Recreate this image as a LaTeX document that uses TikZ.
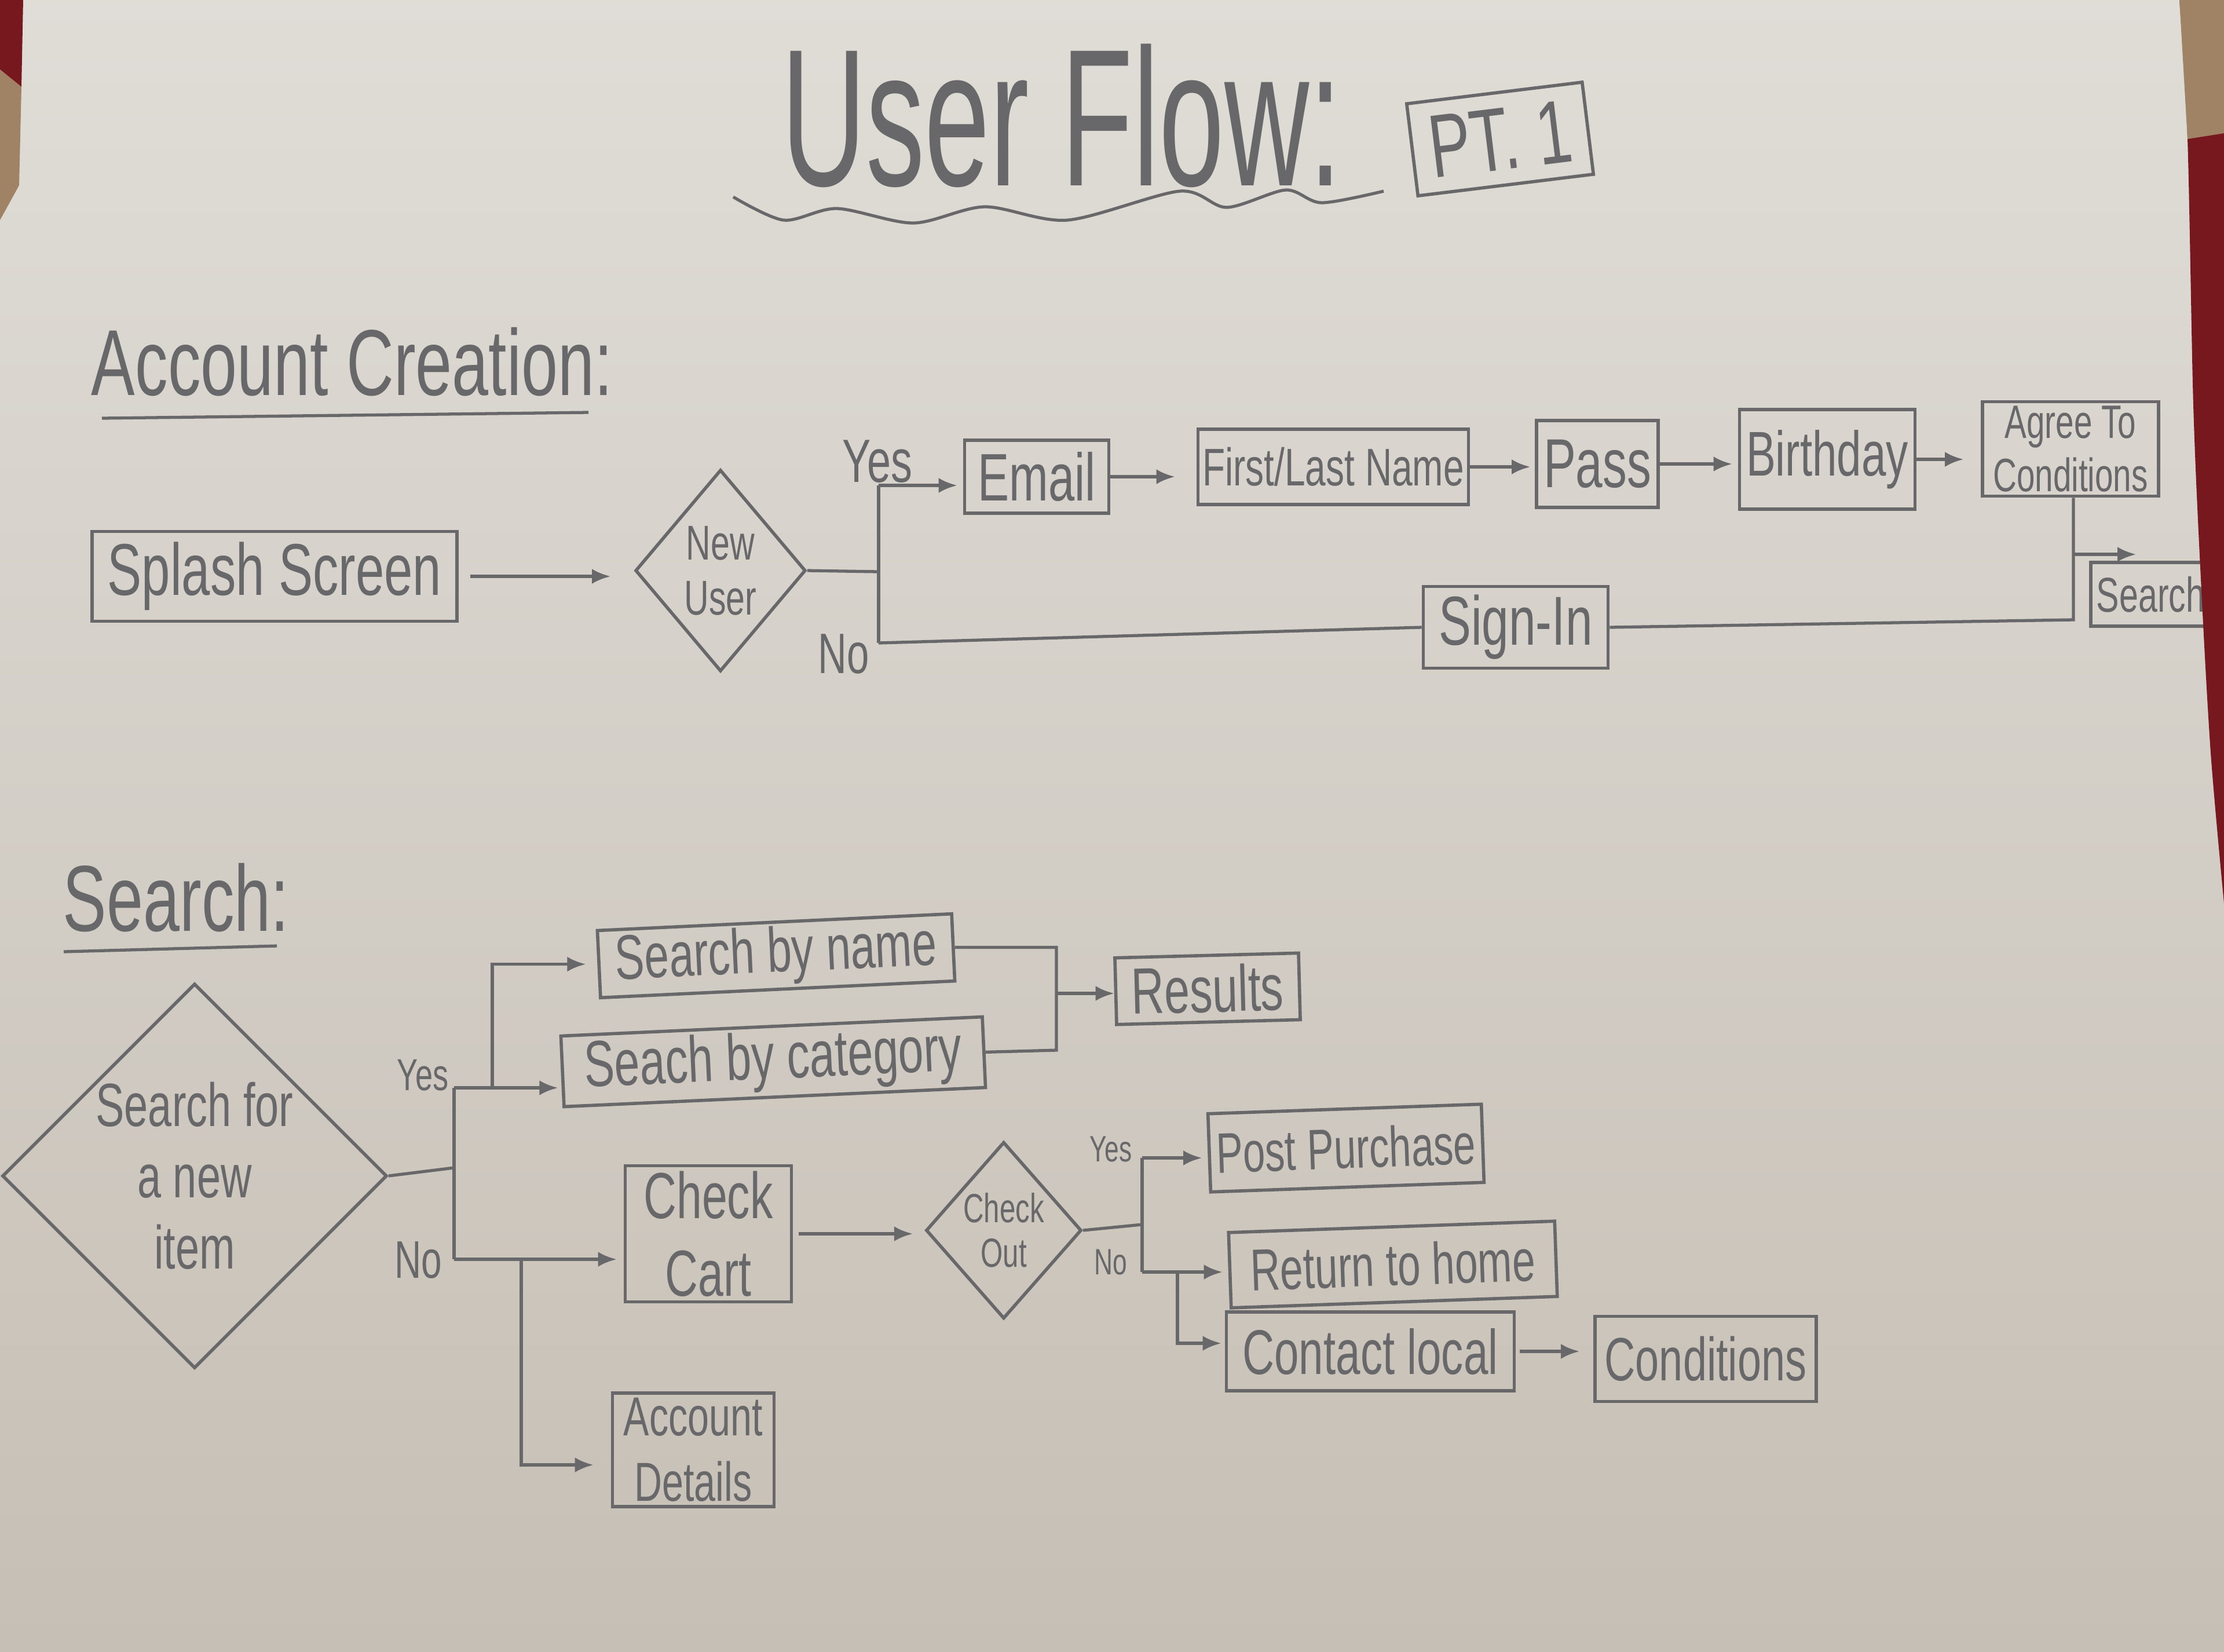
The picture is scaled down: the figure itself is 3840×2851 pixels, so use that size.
\documentclass[tikz,border=0pt]{standalone}
\usepackage{fontspec}
\setmainfont[FakeStretch=0.7]{Liberation Sans}
\newfontfamily\titlefont{Liberation Sans}
\usetikzlibrary{arrows.meta, calc, shapes.geometric}
\definecolor{paper}{RGB}{216,212,205}
\definecolor{paperdark}{RGB}{198,191,181}
\definecolor{pencil}{RGB}{104,104,107}
\definecolor{rug}{RGB}{118,24,30}
\definecolor{rugtan}{RGB}{160,130,100}
\newcommand{\fs}[2]{\fontsize{#1}{#2}\selectfont}
\tikzset{
  box/.style={draw=pencil, line width=1.6pt, text=pencil, inner sep=0pt, align=center},
  decision/.style={diamond, draw=pencil, line width=1.6pt, text=pencil, inner sep=0pt, align=center},
  wire/.style={draw=pencil, line width=1.5pt},
  flow/.style={wire, -{Latex[length=0.32cm, width=0.26cm]}},
  lbl/.style={text=pencil, inner sep=0pt},
}

\begin{document}
\begin{tikzpicture}[x=0.01cm, y=-0.01cm]
  \useasboundingbox (0,0) rectangle (3840,2851);
  \shade[top color=paper!80!white, bottom color=paperdark] (0,0) rectangle (3840,2851);

  % title
  \node[lbl] (title) at (1833,200) {\scalebox{0.6}[1]{\titlefont\fs{96}{106}User Flow:}};
  \node[box, rotate=7, minimum width=3.05cm, minimum height=1.6cm, font=\fs{44}{48}] (part) at (2590,240) {PT. 1};
  \draw[wire] plot[smooth] coordinates {(1266,340) (1353,380) (1445,360) (1577,385) (1700,357) (1843,380) (2037,330) (2118,358) (2220,328) (2282,350) (2389,330)};

  % account creation
  \node[lbl, font=\fs{46}{50}] (acct) at (608,625) {Account Creation:};
  \draw[wire] (176,722) -- (1016,712);

  \node[box, minimum width=6.3cm, minimum height=1.55cm, font=\fs{36}{40}] (splash) at (474,995) {Splash Screen};
  \node[decision, minimum width=2.94cm, minimum height=3.48cm, font=\fs{24}{27}] (newuser) at (1244,985) {New\\User};
  \node[box, minimum width=2.49cm, minimum height=1.26cm, font=\fs{33}{36}] (email) at (1790,823) {Email};
  \node[box, minimum width=4.67cm, minimum height=1.3cm, font=\fs{26}{30}] (name) at (2302,806) {First/Last Name};
  \node[box, minimum width=2.1cm, minimum height=1.5cm, font=\fs{34}{38}] (pass) at (2758,801) {Pass};
  \node[box, minimum width=3.03cm, minimum height=1.72cm, font=\fs{31}{34}] (bday) at (3155,793) {Birthday};
  \node[box, minimum width=3.04cm, minimum height=1.63cm, font=\fs{23}{26}] (agree) at (3575,775) {Agree To\\Conditions};
  \node[box, minimum height=1.1cm, text width=2.6cm, inner xsep=0.1cm, align=left, font=\fs{24}{27}] (search) at (3750,1026) {Search};
  \node[box, minimum width=3.19cm, minimum height=1.41cm, font=\fs{34}{38}] (signin) at (2617,1083) {Sign-In};

  \node[lbl, font=\fs{30}{32}] (yes1) at (1515,797) {Yes};
  \node[lbl, font=\fs{28}{30}] (no1) at (1457,1129) {No};

  \coordinate (ua) at (1517,987);
  \coordinate (uyes) at (1517,838);
  \coordinate (uno) at (1517,1110);
  \coordinate (ub) at (3580,1070);
  \coordinate (uc) at (3580,957);
  \coordinate (ucend) at (3688,957);

  \draw[flow, shorten <=0.2cm, shorten >=0.4cm] (splash.east) -- (splash.east -| newuser.west);
  \draw[wire] (newuser.east) -- (ua);
  \draw[wire] (uyes) -- (uno);
  \draw[flow, shorten >=0.1cm] (uyes) -- (uyes -| email.west);
  \draw[flow, shorten >=0.37cm] (email.east) -- (email.east -| name.west);
  \draw[flow, shorten >=0.08cm] (name.east) -- (name.east -| pass.west);
  \draw[flow, shorten >=0.1cm] (pass.east) -- (pass.east -| bday.west);
  \draw[flow, shorten >=0.3cm] (bday.east) -- (bday.east -| agree.west);
  \draw[wire] (uno) -- (signin.west);
  \draw[wire] (signin.east) -- (ub) -- (ub |- agree.south);
  \draw[flow] (uc) -- (ucend);

  % search
  \node[lbl, font=\fs{46}{50}] (srch) at (304,1550) {Search:};
  \draw[wire] (110,1643) -- (478,1633);

  \node[decision, minimum width=6.22cm, minimum height=6.17cm, font=\fs{30}{35}] (newitem) at (336,2030) {Search for\\a new\\item};
  \node[box, rotate=2.7, minimum width=6.12cm, minimum height=1.16cm, font=\fs{31}{36}] (byname) at (1340,1650) {Search by name};
  \node[box, rotate=2.6, minimum width=7.28cm, minimum height=1.22cm, font=\fs{32}{36}] (bycat) at (1335,1833) {Seach by category};
  \node[box, rotate=1.5, minimum width=3.17cm, minimum height=1.15cm, font=\fs{32}{36}] (results) at (2085,1707) {Results};
  \node[box, minimum width=2.87cm, minimum height=2.35cm, font=\fs{32}{38}] (cart) at (1223,2130) {Check\\Cart};
  \node[box, minimum width=2.79cm, minimum height=1.96cm, font=\fs{27}{32}] (account) at (1197,2503) {Account\\Details};
  \node[decision, minimum width=2.6cm, minimum height=3.05cm, font=\fs{20}{22}] (checkout) at (1733,2124) {Check\\Out};
  \node[box, rotate=2, minimum width=4.72cm, minimum height=1.35cm, font=\fs{28}{32}] (post) at (2324,1982) {Post Purchase};
  \node[box, rotate=2, minimum width=5.63cm, minimum height=1.3cm, font=\fs{29}{32}] (home) at (2405,2183) {Return to home};
  \node[box, minimum width=4.97cm, minimum height=1.36cm, font=\fs{31}{34}] (contact) at (2366,2333) {Contact local};
  \node[box, minimum width=3.82cm, minimum height=1.47cm, font=\fs{30}{34}] (cond) at (2945,2346) {Conditions};

  \node[lbl, font=\fs{22}{24}] (yes2) at (730,1856) {Yes};
  \node[lbl, font=\fs{26}{28}] (no2) at (722,2175) {No};
  \node[lbl, font=\fs{18}{20}] (yes3) at (1918,1984) {Yes};
  \node[lbl, font=\fs{18}{20}] (no3) at (1918,2179) {No};

  \coordinate (sa) at (784,2016);
  \coordinate (syes) at (784,1878);
  \coordinate (sno) at (784,2174);
  \coordinate (syup) at (850,1878);
  \coordinate (sdown) at (900,2174);
  \coordinate (sacc) at (900,2529);
  \coordinate (rb) at (1824,1813);
  \coordinate (rc) at (1824,1715);
  \coordinate (ca) at (1972,2114);
  \coordinate (cyes) at (1972,1999);
  \coordinate (cno) at (1972,2196);
  \coordinate (cdown) at (2033,2196);
  \coordinate (ccon) at (2033,2319);

  \draw[wire] (newitem.east) -- (sa);
  \draw[wire] (syes) -- (sno);
  \draw[flow, shorten >=0.05cm] (syes) -- (syes -| bycat.west);
  \draw[flow, shorten >=0.2cm] (syup) |- (byname.west);
  \draw[flow, shorten >=0.12cm] (sno) -- (sno -| cart.west);
  \draw[flow, shorten >=0.3cm] (sdown) -- (sacc) -- (sacc -| account.west);
  \draw[wire] (byname.east) -| (rb) -- (bycat.east);
  \draw[flow] (rc) -- (rc -| results.west);
  \draw[flow, shorten <=0.1cm, shorten >=0.2cm] (cart.east) -- (cart.east -| checkout.west);
  \draw[wire] (checkout.east) -- (ca);
  \draw[wire] (cyes) -- (cno);
  \draw[flow, shorten >=0.1cm] (cyes) -- (cyes -| post.west);
  \draw[flow, shorten >=0.1cm] (cno) -- (cno -| home.west);
  \draw[flow, shorten >=0.06cm] (cdown) -- (ccon) -- (ccon -| contact.west);
  \draw[flow, shorten <=0.06cm, shorten >=0.24cm] (contact.east) -- (contact.east -| cond.west);

  % rug round the sheet
  \fill[rug] plot[smooth] coordinates {(3763,0) (3777,240) (3787,700) (3800,1000) (3817,1300) (3840,1560)} -- (3840,0) -- cycle;
  \fill[rugtan] (3763,0) -- (3840,0) -- (3840,230) -- (3777,240) -- cycle;
  \fill[rug] (0,0) -- (40,0) -- (37,150) -- (0,120) -- cycle;
  \fill[rugtan] (0,120) -- (37,150) -- (33,320) -- (0,380) -- cycle;
\end{tikzpicture}
\end{document}
